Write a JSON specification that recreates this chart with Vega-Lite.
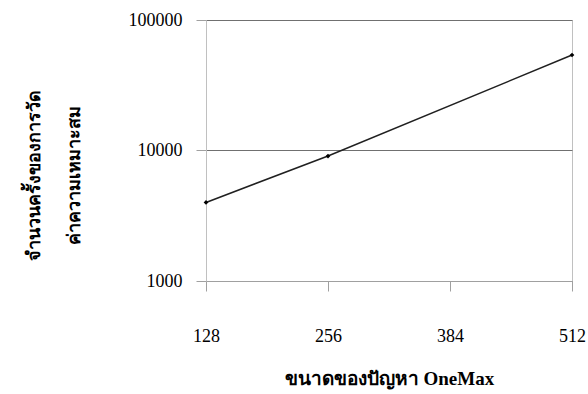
{
  "$schema": "https://vega.github.io/schema/vega-lite/v6.json",
  "autosize": "none",
  "padding": {"left": 206, "top": 20, "right": 16, "bottom": 113},
  "width": 366,
  "height": 261,
  "background": "white",
  "config": {
    "view": {"stroke": "#c0c0c0", "strokeWidth": 1},
    "font": "Liberation Serif"
  },
  "data": {
    "values": [
      {"size": 128, "evals": 4000},
      {"size": 256, "evals": 9070},
      {"size": 512, "evals": 53900}
    ]
  },
  "encoding": {
    "x": {
      "field": "size",
      "type": "quantitative",
      "scale": {"domain": [128, 512], "nice": false, "zero": false},
      "axis": {
        "values": [128, 256, 384, 512],
        "title": "ขนาดของปัญหา OneMax",
        "grid": false,
        "domainColor": "#a0a0a0",
        "tickColor": "#a0a0a0",
        "tickSize": 10,
        "labelFlush": false,
        "labelPadding": 36,
        "labelFont": "Liberation Serif",
        "labelFontSize": 18,
        "labelColor": "black",
        "titleFont": "Liberation Serif",
        "titleFontSize": 19,
        "titleFontWeight": "bold",
        "titleColor": "black",
        "titlePadding": 24
      }
    },
    "y": {
      "field": "evals",
      "type": "quantitative",
      "scale": {"type": "log", "domain": [1000, 100000], "nice": false},
      "axis": {
        "values": [1000, 10000, 100000],
        "format": "d",
        "title": ["จำนวนครั้งของการวัด", "ค่าความเหมาะสม"],
        "grid": true,
        "gridColor": "#707070",
        "gridWidth": 1,
        "domainColor": "#c0c0c0",
        "tickColor": "#a0a0a0",
        "tickSize": 10,
        "labelPadding": 14,
        "labelFlush": false,
        "labelFont": "Liberation Serif",
        "labelFontSize": 18,
        "labelColor": "black",
        "titleFont": "Liberation Serif",
        "titleFontSize": 18,
        "titleFontWeight": "bold",
        "titleColor": "black",
        "titleAngle": -90,
        "titleAlign": "center",
        "titleBaseline": "middle",
        "titleLineHeight": 40,
        "titleX": -172,
        "titleY": 155
      }
    }
  },
  "layer": [
    {"mark": {"type": "line", "color": "#202020", "strokeWidth": 1.5}},
    {"mark": {"type": "point", "shape": "diamond", "filled": true, "color": "black", "size": 22, "opacity": 1}}
  ]
}
